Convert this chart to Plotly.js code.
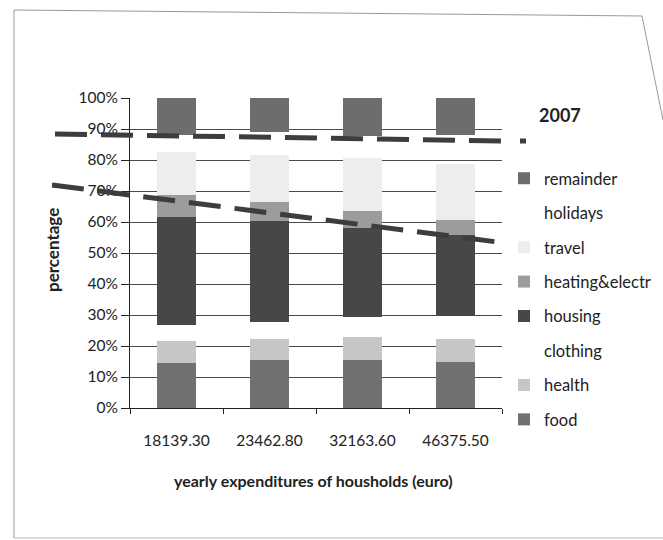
<!DOCTYPE html>
<html>
<head>
<meta charset="utf-8">
<script src="https://cdn.plot.ly/plotly-3.0.1.min.js"></script>
<style>html,body{margin:0;padding:0;background:#fff;}#chart{width:663px;height:540px;}</style>
</head>
<body>
<div id="chart"></div>
<script>
// ---- data (percent of yearly household expenditures, 2007) ----
var categories = ['18139.30', '23462.80', '32163.60', '46375.50'];
var food      = [14.4, 15.4, 15.5, 14.8];
var health    = [7.2, 6.9, 7.5, 7.4];
var clothing  = [5.1, 5.5, 6.5, 7.5];
var housing   = [35.0, 32.6, 28.5, 26.1];
var heating   = [7.0, 6.1, 5.6, 4.7];
var travel    = [13.8, 15.1, 17.0, 18.2];
var holidays  = [5.5, 7.4, 7.2, 9.3];
var remainder = [12.0, 11.0, 12.2, 12.0];
var yTickVals   = [0, 10, 20, 30, 40, 50, 60, 70, 80, 90, 100];
var yTickLabels = ['0%', '10%', '20%', '30%', '40%', '50%', '60%', '70%', '80%', '90%', '100%'];

// ---- layout geometry ----
var W = 663, H = 540;
var L = 130, R = 502, T = 98, B = 408;
function px(x) { return (x - L) / (R - L); }
function py(y) { return (B - y) / (B - T); }

var FONT = 'Lato, "Open Sans", sans-serif';
var TXT = '#222';

var seriesDefs = [
  {name: 'food', y: food, color: '#717171'},
  {name: 'health', y: health, color: '#c6c6c6'},
  {name: 'clothing', y: clothing, color: 'rgba(255,255,255,0)'},
  {name: 'housing', y: housing, color: '#474747'},
  {name: 'heating&electr', y: heating, color: '#9c9c9c'},
  {name: 'travel', y: travel, color: '#ededed'},
  {name: 'holidays', y: holidays, color: 'rgba(255,255,255,0)'},
  {name: 'remainder', y: remainder, color: '#6d6d6d'}
];

var traces = seriesDefs.map(function (s, i) {
  return {
    type: 'bar', name: s.name, x: categories, y: s.y,
    legendgroup: s.name, legendrank: 1000 - i,
    marker: {color: s.color, line: {width: 0}},
    hoverinfo: 'name+y'
  };
});

// hand-drawn dashed guide lines (pixel positions on the page)
function seg(x0, y0, x1, y1, w, dash) {
  return {type: 'line', xref: 'paper', yref: 'paper', layer: 'above',
    x0: px(x0), y0: py(y0), x1: px(x1), y1: py(y1),
    line: {color: '#3d3d3d', width: w, dash: dash}};
}
var shapes = [
  seg(55, 134, 509, 141, 5, '32px,14px'),
  seg(520, 141, 526, 141, 5, 'solid'),
  seg(52, 185, 505, 243, 5, '32px,14px'),
  seg(519, 245, 525, 245, 5, 'solid'),
  // scanned chart border
  {type: 'path', xref: 'paper', yref: 'paper', layer: 'below',
   path: 'M ' + px(14) + ',' + py(538) + ' L ' + px(14) + ',' + py(10) +
         ' L ' + px(642) + ',' + py(16) + ' L ' + px(663) + ',' + py(120),
   line: {color: '#999', width: 1}},
  {type: 'line', xref: 'paper', yref: 'paper', layer: 'below',
   x0: px(14), y0: py(538), x1: px(663), y1: py(538),
   line: {color: '#bbb', width: 1}}
];

var layout = {
  width: W, height: H,
  margin: {l: L, r: W - R, t: T, b: H - B, pad: 0, autoexpand: false},
  paper_bgcolor: '#fff', plot_bgcolor: 'rgba(0,0,0,0)',
  barmode: 'stack', bargap: 0.59,
  font: {family: FONT, size: 15, color: TXT},
  showlegend: true,
  legend: {
    x: px(504), xanchor: 'left', y: py(161), yanchor: 'top',
    traceorder: 'grouped', tracegroupgap: 10,
    font: {family: FONT, size: 16.5, color: TXT},
    itemclick: false, bgcolor: 'rgba(0,0,0,0)'
  },
  xaxis: {
    type: 'category', showgrid: false, zeroline: false,
    showline: true, linecolor: '#222', linewidth: 1,
    ticks: 'outside', tickson: 'boundaries', ticklen: 5, tickcolor: '#222',
    tickfont: {family: FONT, size: 15.5, color: TXT},
    ticklabelstandoff: 18, fixedrange: true
  },
  yaxis: {
    range: [0, 100], tickmode: 'array', tickvals: yTickVals, ticktext: yTickLabels,
    showgrid: true, gridcolor: '#4a4a4a', gridwidth: 1,
    zeroline: false, showline: true, linecolor: '#222', linewidth: 1,
    ticks: 'outside', ticklen: 8, tickcolor: '#222',
    tickfont: {family: FONT, size: 15.5, color: TXT}, fixedrange: true
  },
  shapes: shapes,
  annotations: [
    {text: '<b>2007</b>', xref: 'paper', yref: 'paper', x: px(560), y: py(115),
     xanchor: 'center', yanchor: 'middle',
     showarrow: false, font: {family: FONT, size: 18, color: TXT}},
    {text: '<b>percentage</b>', xref: 'paper', yref: 'paper', x: px(52), y: py(250),
     xanchor: 'center', yanchor: 'middle',
     textangle: -90, showarrow: false, font: {family: FONT, size: 17, color: TXT}},
    {text: '<b>yearly expenditures of housholds (euro)</b>', xref: 'paper', yref: 'paper',
     x: px(313), y: py(481), xanchor: 'center', yanchor: 'middle',
     showarrow: false, font: {family: FONT, size: 16, color: TXT}}
  ]
};

Plotly.newPlot('chart', traces, layout, {staticPlot: true, displayModeBar: false});
</script>
</body>
</html>
